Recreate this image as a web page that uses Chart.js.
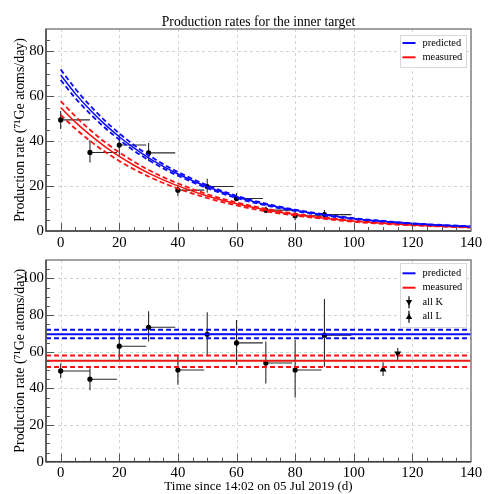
<!DOCTYPE html>
<html><head><meta charset="utf-8">
<script src="https://cdn.jsdelivr.net/npm/chart.js@4.4.1/dist/chart.umd.min.js"></script>
<style>
html,body{margin:0;padding:0;background:#fff;width:493px;height:494px;overflow:hidden}
canvas{position:absolute;left:0}
#c1{top:0}
#c2{top:245px}
</style></head><body>
<canvas id="c1" width="493" height="250" style="width:493px;height:250px"></canvas>
<canvas id="c2" width="493" height="249" style="width:493px;height:249px"></canvas>
<script>
const FONT = "'Liberation Serif', 'Times New Roman', serif";

// ---- shared axis ticks ----
const xTicks = [0, 20, 40, 60, 80, 100, 120, 140];
const topYTicks = [0, 20, 40, 60, 80];
const botYTicks = [0, 20, 40, 60, 80, 100];

// ---- measurement runs (start / end day) ----
const runStart = [0, 10, 20, 30, 40, 50, 60, 70, 80, 90];
const runEnd   = [10, 19.2, 29.2, 39.1, 49, 59, 69, 79, 89, 99.2];

// ---- top panel: measured rates ----
const topRate = [49.5, 35.0, 38.3, 34.8, 18.2, 19.8, 14.5, 9.3, 6.8, 7.3];
const topLow  = [45.5, 30.5, 33.5, 31.2, 15.5, 17.0, 13.2, 7.9, 4.8, 5.7];
const topHigh = [53.5, 40.5, 43.0, 39.2, 20.6, 23.3, 16.9, 10.9, 9.0, 9.4];

// ---- top panel: curves ----
const curveDays   = [0, 5, 10, 15, 20, 25, 30, 35, 40, 50, 60, 70, 80, 90, 100, 110, 120, 130, 140];
const predCurve   = [69.5, 61.2, 54.0, 47.6, 42.0, 37.0, 32.6, 28.8, 25.4, 19.7, 15.2, 11.8, 9.2, 7.1, 5.5, 4.3, 3.3, 2.6, 2.0];
const predCurveHi = [72.0, 63.4, 55.9, 49.3, 43.5, 38.3, 33.8, 29.8, 26.3, 20.4, 15.7, 12.2, 9.5, 7.4, 5.7, 4.5, 3.4, 2.7, 2.1];
const predCurveLo = [67.3, 59.2, 52.3, 46.1, 40.7, 35.8, 31.6, 27.9, 24.6, 19.1, 14.7, 11.4, 8.9, 6.9, 5.3, 4.2, 3.2, 2.5, 1.9];
const measCurve   = [55.0, 48.5, 42.8, 37.7, 33.2, 29.3, 25.8, 22.8, 20.1, 15.6, 12.1, 9.4, 7.3, 5.7, 4.4, 3.4, 2.7, 2.1, 1.6];
const measCurveHi = [57.9, 51.1, 45.1, 39.7, 35.0, 30.9, 27.2, 24.0, 21.2, 16.4, 12.7, 9.9, 7.7, 6.0, 4.6, 3.6, 2.8, 2.2, 1.7];
const measCurveLo = [51.7, 45.6, 40.2, 35.4, 31.2, 27.5, 24.3, 21.4, 18.9, 14.7, 11.4, 8.8, 6.9, 5.4, 4.1, 3.2, 2.5, 2.0, 1.5];

// ---- bottom panel: decay-corrected rates ----
const botRate = [49.5, 45.0, 63.0, 73.3, 50.0, 69.5, 64.8, 53.8, 50.0, 69.0];
const botLow  = [45.5, 39.0, 55.5, 65.5, 42.0, 58.0, 52.7, 42.7, 35.0, 51.8];
const botHigh = [53.6, 51.0, 70.0, 82.0, 57.5, 81.5, 77.3, 65.5, 66.4, 88.7];

const predLevel = [67.3, 69.5, 72.0];   // low, central, high
const measLevel = [51.7, 55.1, 57.9];
const levelSpan = [-5, 140];

const allKDay = [115], allKRate = [59.0], allKLow = [55.0], allKHigh = [62.0];
const allLDay = [110], allLRate = [50.3], allLLow = [46.8], allLHigh = [54.3];

// ---- helpers ----
const pts = (xs, ys) => xs.map((x, i) => ({x: x, y: ys[i]}));
const flat = v => levelSpan.map(x => ({x: x, y: v}));
const BLUE = '#0a0aff', RED = '#ff1010';

function line(data, color, dashed, w) {
  return {data: data, showLine: true, borderColor: color, backgroundColor: color,
    borderWidth: w, borderDash: dashed ? [5, 3] : [], pointRadius: 0, pointHoverRadius: 0,
    cubicInterpolationMode: 'monotone', fill: false, order: 1};
}
function pointsDs(xs, ys, lo, hi, ends, style, rot, r) {
  return {data: pts(xs, ys), errLow: lo, errHigh: hi, xEnd: ends, showLine: false,
    pointStyle: style || 'circle', pointRotation: rot || 0, pointRadius: r || 2.6,
    backgroundColor: '#000', borderColor: '#000', borderWidth: 0, order: 2};
}

const gridPlugin = {
  id: 'rootgrid',
  beforeDatasetsDraw(chart, args, o) {
    const {ctx, chartArea: a, scales: {x, y}} = chart;
    ctx.save();
    ctx.strokeStyle = '#d4d4d4'; ctx.lineWidth = 1; ctx.setLineDash([3, 3]);
    ctx.beginPath();
    xTicks.forEach(v => { const p = Math.round(x.getPixelForValue(v)) + 0.5; ctx.moveTo(p, a.top); ctx.lineTo(p, a.bottom); });
    o.yTicks.forEach(v => { const p = Math.round(y.getPixelForValue(v)) + 0.5; ctx.moveTo(a.left, p); ctx.lineTo(a.right, p); });
    ctx.stroke();
    ctx.setLineDash([]);
    // error bars
    ctx.beginPath(); ctx.rect(a.left, a.top, a.right - a.left, a.bottom - a.top); ctx.clip();
    ctx.strokeStyle = '#2a2a2a'; ctx.lineWidth = 1.1;
    chart.data.datasets.forEach(ds => {
      if (!ds.errLow) return;
      ds.data.forEach((p, i) => {
        const px = x.getPixelForValue(p.x), py = y.getPixelForValue(p.y);
        ctx.beginPath();
        ctx.moveTo(px, y.getPixelForValue(ds.errLow[i]));
        ctx.lineTo(px, y.getPixelForValue(ds.errHigh[i]));
        if (ds.xEnd) { ctx.moveTo(px, py); ctx.lineTo(x.getPixelForValue(ds.xEnd[i]), py); }
        ctx.stroke();
      });
    });
    ctx.restore();
  },
  afterDraw(chart, args, o) {
    const {ctx, chartArea: a, scales: {x, y}} = chart;
    ctx.save();
    // minor/major ticks inside the frame
    ctx.strokeStyle = '#555'; ctx.lineWidth = 1;
    ctx.beginPath();
    for (let v = 0; v < 140; v += 5) {
      const p = Math.round(x.getPixelForValue(v)) + 0.5, len = v % 20 === 0 ? 8 : 4;
      ctx.moveTo(p, a.bottom); ctx.lineTo(p, a.bottom - len);
    }
    for (let v = 5; v < o.ymax; v += 5) {
      const p = Math.round(y.getPixelForValue(v)) + 0.5, len = v % 20 === 0 ? 8 : 4;
      ctx.moveTo(a.left, p); ctx.lineTo(a.left + len, p);
    }
    ctx.stroke();
    // frame
    ctx.strokeStyle = '#8a8a8a'; ctx.lineWidth = 1.6;
    ctx.strokeRect(a.left, a.top, a.right - a.left, a.bottom - a.top);
    ctx.strokeStyle = '#444'; ctx.lineWidth = 1.4;
    ctx.beginPath(); ctx.moveTo(a.left, a.top); ctx.lineTo(a.left, a.bottom); ctx.lineTo(a.right, a.bottom); ctx.stroke();
    // title
    if (o.title) {
      ctx.fillStyle = '#000'; ctx.font = '13.6px ' + FONT;
      ctx.textAlign = 'center'; ctx.textBaseline = 'middle';
      ctx.fillText(o.title, (a.left + a.right) / 2, o.titleY);
    }
    // legend
    const L = o.legend;
    ctx.fillStyle = '#fff'; ctx.fillRect(L.x, L.y, L.w, L.h);
    ctx.strokeStyle = '#d8d8d8'; ctx.lineWidth = 1;
    ctx.strokeRect(L.x + 0.5, L.y + 0.5, L.w, L.h);
    ctx.font = '10.4px ' + FONT; ctx.textAlign = 'left'; ctx.textBaseline = 'middle';
    L.items.forEach((it, i) => {
      const yy = L.rows[i];
      if (it.type === 'line') {
        ctx.strokeStyle = it.color; ctx.lineWidth = 2;
        ctx.beginPath(); ctx.moveTo(402.5, yy); ctx.lineTo(415.5, yy); ctx.stroke();
      } else {
        const cx = 409, s = 3.2, d = it.type === 'down' ? 1 : -1;
        ctx.strokeStyle = '#000'; ctx.lineWidth = 1.2;
        ctx.beginPath(); ctx.moveTo(cx, yy - 6); ctx.lineTo(cx, yy + 6); ctx.stroke();
        ctx.fillStyle = '#000';
        ctx.beginPath();
        ctx.moveTo(cx - s, yy - d * s * 0.7); ctx.lineTo(cx + s, yy - d * s * 0.7); ctx.lineTo(cx, yy + d * s);
        ctx.closePath(); ctx.fill();
      }
      ctx.fillStyle = '#000';
      ctx.fillText(it.label, 422.5, yy);
    });
    ctx.restore();
  }
};

function scales(yTicks, ymax, xh, xPad, xTitle) {
  return {
    x: {type: 'linear', min: -5, max: 140,
      afterBuildTicks: s => { s.ticks = xTicks.map(v => ({value: v})); },
      afterFit: s => { s.height = xh; },
      grid: {display: false, drawTicks: false}, border: {display: false},
      ticks: {padding: xPad, color: '#000', font: {family: FONT, size: 14.8}, maxRotation: 0, autoSkip: false},
      title: xTitle ? {display: true, text: xTitle, color: '#000', font: {family: FONT, size: 13}, padding: {top: 2, bottom: 0}} : {display: false}
    },
    y: {type: 'linear', min: 0, max: ymax,
      afterBuildTicks: s => { s.ticks = yTicks.map(v => ({value: v})); },
      afterFit: s => { s.width = 46; },
      grid: {display: false, drawTicks: false}, border: {display: false},
      ticks: {padding: 2, color: '#000', font: {family: FONT, size: 14.8}, autoSkip: false},
      title: {display: true, text: 'Production rate (\u2077\u00B9Ge atoms/day)', color: '#000',
        font: {family: FONT, size: 13.9}, padding: {top: 12, bottom: 0}}
    }
  };
}

const common = {responsive: false, animation: false, events: [],
  plugins: {legend: {display: false}, tooltip: {enabled: false}}};

new Chart(document.getElementById('c1'), {
  type: 'scatter',
  data: {datasets: [
    pointsDs(runStart, topRate, topLow, topHigh, runEnd),
    line(pts(curveDays, predCurve), BLUE, false, 1.5),
    line(pts(curveDays, predCurveHi), BLUE, true, 1.8),
    line(pts(curveDays, predCurveLo), BLUE, true, 1.8),
    line(pts(curveDays, measCurve), RED, false, 1.5),
    line(pts(curveDays, measCurveHi), RED, true, 1.8),
    line(pts(curveDays, measCurveLo), RED, true, 1.8)
  ]},
  options: Object.assign({}, common, {
    layout: {padding: {top: 29, right: 22, left: 0, bottom: 0}},
    scales: scales(topYTicks, 90, 19, 3, null),
    plugins: Object.assign({}, common.plugins, {rootgrid: {
      yTicks: topYTicks, ymax: 90, title: 'Production rates for the inner target', titleY: 22,
      legend: {x: 400, y: 35, w: 66, h: 32, rows: [43, 57.3],
        items: [{type: 'line', color: BLUE, label: 'predicted'}, {type: 'line', color: RED, label: 'measured'}]}
    }})
  }),
  plugins: [gridPlugin]
});

new Chart(document.getElementById('c2'), {
  type: 'scatter',
  data: {datasets: [
    pointsDs(runStart, botRate, botLow, botHigh, runEnd),
    pointsDs(allKDay, allKRate, allKLow, allKHigh, null, 'triangle', 180, 4),
    pointsDs(allLDay, allLRate, allLLow, allLHigh, null, 'triangle', 0, 4),
    line(flat(predLevel[1]), BLUE, false, 2),
    line(flat(predLevel[2]), BLUE, true, 2),
    line(flat(predLevel[0]), BLUE, true, 2),
    line(flat(measLevel[1]), RED, false, 2),
    line(flat(measLevel[2]), RED, true, 2),
    line(flat(measLevel[0]), RED, true, 2)
  ]},
  options: Object.assign({}, common, {
    layout: {padding: {top: 15, right: 22, left: 0, bottom: 0}},
    scales: scales(botYTicks, 110, 32.3, 3, 'Time since 14:02 on 05 Jul 2019 (d)'),
    plugins: Object.assign({}, common.plugins, {rootgrid: {
      yTicks: botYTicks, ymax: 110, title: null,
      legend: {x: 400, y: 18, w: 66, h: 64, rows: [28.3, 42.7, 57.3, 71.7],
        items: [{type: 'line', color: BLUE, label: 'predicted'}, {type: 'line', color: RED, label: 'measured'},
                {type: 'down', label: 'all K'}, {type: 'up', label: 'all L'}]}
    }})
  }),
  plugins: [gridPlugin]
});
</script>
</body></html>
